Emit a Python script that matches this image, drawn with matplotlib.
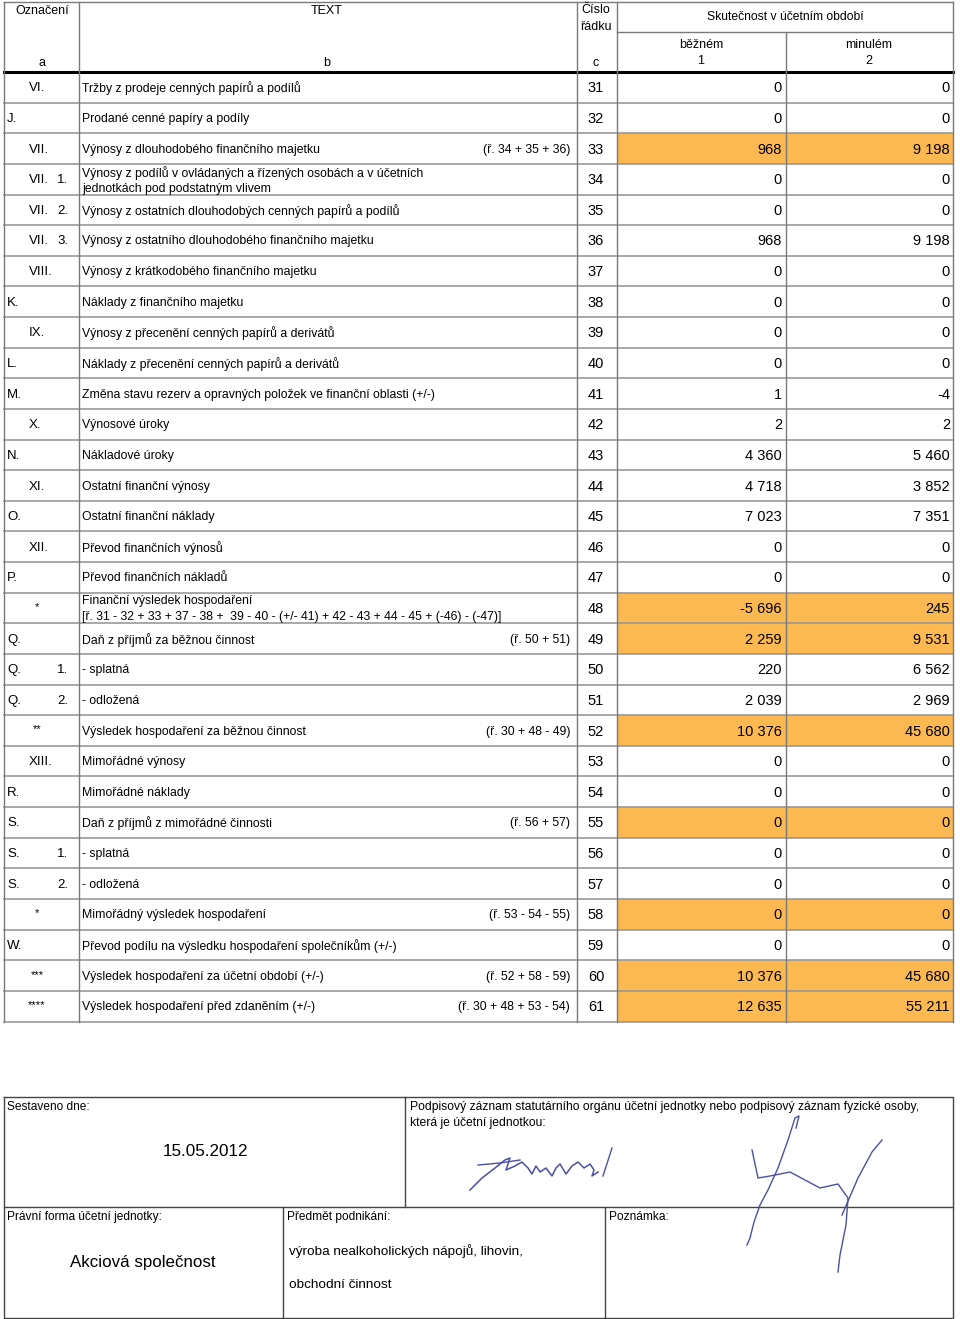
import matplotlib.pyplot as plt
import matplotlib as mpl

mpl.rcParams.update({
    'font.family': ['Liberation Sans', 'DejaVu Sans'],
    'font.size': 9,
})

# Data
oznaceni = ["VI.", "J.", "VII.", "VII.", "VII.", "VII.", "VIII.", "K.", "IX.", "L.", "M.", "X.", "N.",
            "XI.", "O.", "XII.", "P.", "*", "Q.", "Q.", "Q.", "**", "XIII.", "R.", "S.", "S.", "S.",
            "*", "W.", "***", "****"]
podpolozka = ["", "", "", "1.", "2.", "3.", "", "", "", "", "", "", "", "", "", "", "", "", "",
              "1.", "2.", "", "", "", "", "1.", "2.", "", "", "", ""]
texty = [
    "Tržby z prodeje cenných papírů a podílů",
    "Prodané cenné papíry a podíly",
    "Výnosy z dlouhodobého finančního majetku",
    "Výnosy z podílů v ovládaných a řízených osobách a v účetních\njednotkách pod podstatným vlivem",
    "Výnosy z ostatních dlouhodobých cenných papírů a podílů",
    "Výnosy z ostatního dlouhodobého finančního majetku",
    "Výnosy z krátkodobého finančního majetku",
    "Náklady z finančního majetku",
    "Výnosy z přecenění cenných papírů a derivátů",
    "Náklady z přecenění cenných papírů a derivátů",
    "Změna stavu rezerv a opravných položek ve finanční oblasti (+/-)",
    "Výnosové úroky",
    "Nákladové úroky",
    "Ostatní finanční výnosy",
    "Ostatní finanční náklady",
    "Převod finančních výnosů",
    "Převod finančních nákladů",
    "Finanční výsledek hospodaření\n[ř. 31 - 32 + 33 + 37 - 38 +  39 - 40 - (+/- 41) + 42 - 43 + 44 - 45 + (-46) - (-47)]",
    "Daň z příjmů za běžnou činnost",
    "- splatná",
    "- odložená",
    "Výsledek hospodaření za běžnou činnost",
    "Mimořádné výnosy",
    "Mimořádné náklady",
    "Daň z příjmů z mimořádné činnosti",
    "- splatná",
    "- odložená",
    "Mimořádný výsledek hospodaření",
    "Převod podílu na výsledku hospodaření společníkům (+/-)",
    "Výsledek hospodaření za účetní období (+/-)",
    "Výsledek hospodaření před zdaněním (+/-)",
]
vzorce = ["", "", "(ř. 34 + 35 + 36)", "", "", "", "", "", "", "", "", "", "", "", "", "", "", "",
          "(ř. 50 + 51)", "", "", "(ř. 30 + 48 - 49)", "", "", "(ř. 56 + 57)", "", "",
          "(ř. 53 - 54 - 55)", "", "(ř. 52 + 58 - 59)", "(ř. 30 + 48 + 53 - 54)"]
radky = list(range(31, 62))
bezne = ["0", "0", "968", "0", "0", "968", "0", "0", "0", "0", "1", "2", "4 360", "4 718", "7 023",
         "0", "0", "-5 696", "2 259", "220", "2 039", "10 376", "0", "0", "0", "0", "0", "0", "0",
         "10 376", "12 635"]
minule = ["0", "0", "9 198", "0", "0", "9 198", "0", "0", "0", "0", "-4", "2", "5 460", "3 852",
          "7 351", "0", "0", "245", "9 531", "6 562", "2 969", "45 680", "0", "0", "0", "0", "0", "0",
          "0", "45 680", "55 211"]
zvyraznene = [33, 48, 49, 52, 55, 58, 60, 61]

ORANZ = "#FCB851"
LINKA = "#7a7a7a"
MODRA = "#4b4fa6"
FS = 8.8

fig = plt.figure(figsize=(9.6, 13.19), dpi=100)
ax = fig.add_axes([0, 0, 1, 1])
ax.set_xlim(0, 960)
ax.set_ylim(1319, 0)
ax.axis('off')

# sloupce
X0, XA, XB, XC, X1, X2 = 4, 79, 577, 617, 786, 953
Y_TOP, Y_HEAD = 2, 72
RH = 30.63
y_bottom = Y_HEAD + RH * len(texty)

# zvyraznene radky
for i, r in enumerate(radky):
    if r in zvyraznene:
        ax.fill_between([XC, X2], Y_HEAD + i * RH, Y_HEAD + (i + 1) * RH, color=ORANZ, lw=0)

# mrizka
for i in range(1, len(texty) + 1):
    ax.plot([X0, X2], [Y_HEAD + i * RH] * 2, color="#999999", lw=1.2)
ax.plot([X0, X2], [Y_TOP, Y_TOP], color=LINKA, lw=1)
ax.plot([XC, X2], [32, 32], color=LINKA, lw=1)
ax.plot([X0, X2], [Y_HEAD, Y_HEAD], color="black", lw=2.2)
for x in [X0, XA, XB, XC, X2]:
    ax.plot([x, x], [Y_TOP, y_bottom], color=LINKA, lw=1)
ax.plot([X1, X1], [32, y_bottom], color=LINKA, lw=1)

# hlavicka
hkw = dict(ha='center', va='center', fontsize=9)
ax.text(42, 11, "Označení", **hkw)
ax.text(42, 63, "a", **hkw)
ax.text(327, 11, "TEXT", **hkw)
ax.text(327, 63, "b", **hkw)
ax.text(596, 10, "Číslo", **hkw)
ax.text(596, 27, "řádku", **hkw)
ax.text(596, 63, "c", **hkw)
ax.text(785, 17, "Skutečnost v účetním období", ha='center', va='center', fontsize=8.7)
ax.text(701, 45, "běžném", **hkw)
ax.text(701, 61, "1", **hkw)
ax.text(869, 45, "minulém", **hkw)
ax.text(869, 61, "2", **hkw)

# radky
for i in range(len(texty)):
    yc = Y_HEAD + (i + 0.5) * RH + 1
    lab = oznaceni[i]
    if lab.startswith("*"):
        ax.text(37, yc - 2, lab, ha='center', va='center', fontsize=8)
    elif len(lab) == 2 and lab[0] in "JKLMNOPQRSW":
        ax.text(7, yc, lab, ha='left', va='center', fontsize=9.5)
    else:
        ax.text(29, yc, lab, ha='left', va='center', fontsize=9.5)
    if podpolozka[i]:
        ax.text(68, yc, podpolozka[i], ha='right', va='center', fontsize=9.5)
    ax.text(82, yc, texty[i], ha='left', va='center', fontsize=FS, linespacing=1.35)
    if vzorce[i]:
        ax.text(570, yc, vzorce[i], ha='right', va='center', fontsize=FS)
    ax.text(596, yc, str(radky[i]), ha='center', va='center', fontsize=10.5)
    ax.text(782, yc, bezne[i], ha='right', va='center', fontsize=10.5)
    ax.text(950, yc, minule[i], ha='right', va='center', fontsize=10.5)

# spodni blok
B0, BM, B1 = 1097, 1207, 1318
ax.plot([X0, X2, X2, X0, X0], [B0, B0, B1, B1, B0], color="#444444", lw=1)
ax.plot([X0, X2], [BM, BM], color="#444444", lw=1)
ax.plot([405, 405], [B0, BM], color="#444444", lw=1)
ax.plot([283, 283], [BM, B1], color="#444444", lw=1)
ax.plot([605, 605], [BM, B1], color="#444444", lw=1)

ax.text(7, 1107, "Sestaveno dne:", ha='left', va='center', fontsize=8.6)
ax.text(206, 1152, "15.05.2012", ha='center', va='center', fontsize=12.3)
ax.text(410, 1107, "Podpisový záznam statutárního orgánu účetní jednotky nebo podpisový záznam fyzické osoby,",
        ha='left', va='center', fontsize=8.7)
ax.text(410, 1123, "která je účetní jednotkou:", ha='left', va='center', fontsize=8.7)
ax.text(7, 1217, "Právní forma účetní jednotky:", ha='left', va='center', fontsize=8.6)
ax.text(287, 1217, "Předmět podnikání:", ha='left', va='center', fontsize=8.6)
ax.text(609, 1217, "Poznámka:", ha='left', va='center', fontsize=8.6)
ax.text(143, 1262, "Akciová společnost", ha='center', va='center', fontsize=12.2)
ax.text(289, 1251, "výroba nealkoholických nápojů, lihovin,", ha='left', va='center', fontsize=9.7)
ax.text(289, 1285, "obchodní činnost", ha='left', va='center', fontsize=9.7)

# podpisy (hrube naznaceni)
ax.plot([470, 482, 495, 505, 510, 506, 515, 522, 528, 532, 536, 540, 546, 552, 556, 560, 566,
         572, 578, 584, 590, 594, 592, 598],
        [1190, 1178, 1168, 1160, 1158, 1170, 1166, 1162, 1168, 1174, 1166, 1172, 1168, 1176, 1168,
         1164, 1174, 1166, 1162, 1168, 1164, 1170, 1176, 1172],
        color=MODRA, lw=1.1)
ax.plot([478, 500, 520], [1165, 1163, 1160], color=MODRA, lw=1.0)
ax.plot([603, 612], [1176, 1148], color=MODRA, lw=1.0)
ax.plot([796, 799, 795, 788, 778, 768, 760, 754, 750, 747],
        [1128, 1116, 1118, 1140, 1168, 1190, 1205, 1222, 1238, 1245], color=MODRA, lw=1.0)
ax.plot([752, 758, 770, 790, 805, 820, 838, 848, 846, 840, 838],
        [1150, 1178, 1176, 1172, 1180, 1188, 1184, 1198, 1225, 1255, 1272], color=MODRA, lw=1.0)
ax.plot([842, 858, 872, 882], [1215, 1178, 1152, 1140], color=MODRA, lw=1.0)

fig.savefig("out.png", dpi=100)
